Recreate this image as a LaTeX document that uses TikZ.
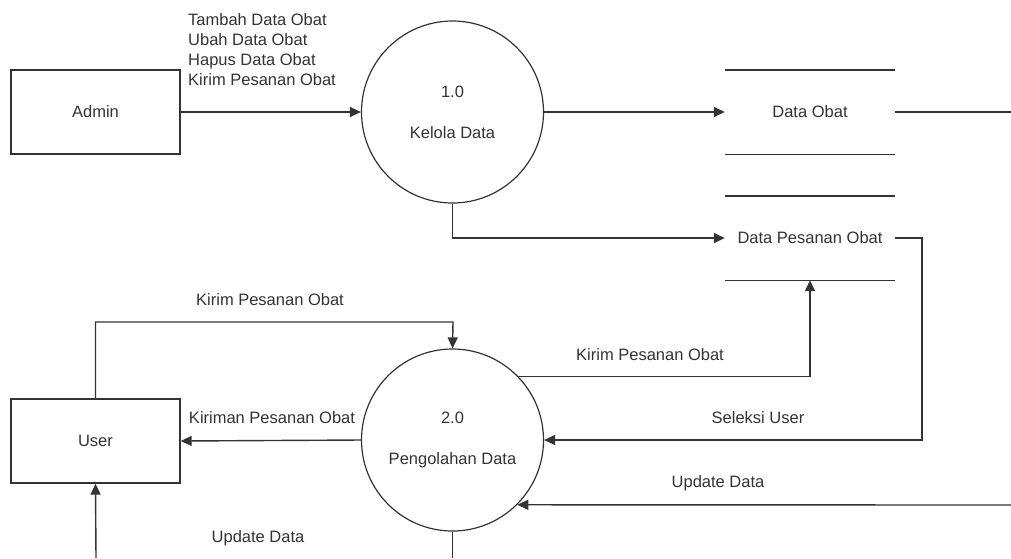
\documentclass[tikz,border=0pt]{standalone}
\usepackage{fontspec}
\setmainfont{Liberation Sans}
\usetikzlibrary{arrows.meta}
\definecolor{lc}{HTML}{333333}
\definecolor{tc}{HTML}{333333}
\begin{document}
\begin{tikzpicture}[x=1pt,y=-1pt,
  font=\fontsize{16.5}{20}\selectfont,
  ent/.style={draw=lc, line width=1.4pt, minimum width=169pt, minimum height=84pt, text=tc, inner sep=0pt},
  proc/.style={circle, draw=lc, line width=1.2pt, minimum size=182pt, inner sep=0pt, align=center, text=tc},
  store/.style={minimum width=170pt, minimum height=84pt, inner sep=0pt, text=tc},
  sline/.style={draw=lc, line width=1.4pt},
  flow/.style={-{Triangle[length=11pt,width=10pt]}, line width=1.4pt, draw=lc},
  plain/.style={line width=1.4pt, draw=lc},
  lbl/.style={text=tc, inner sep=0pt}]
\useasboundingbox (0,0) rectangle (1011,558);

% entities
\node[ent] (admin) at (95.5,112) {Admin};
\node[ent] (user) at (95.5,441) {User};

% processes
\node[proc] (c1) at (452.5,112) {1.0\\[21pt]Kelola Data};
\node[proc] (c2) at (452.5,440) {2.0\\[21pt]Pengolahan Data};

% data stores
\node[store] (s1) at (810,112) {Data Obat};
\node[store] (s2) at (810,238) {Data Pesanan Obat};
\draw[sline] (s1.north west) -- (s1.north east);
\draw[sline] (s1.south west) -- (s1.south east);
\draw[sline] (s2.north west) -- (s2.north east);
\draw[sline] (s2.south west) -- (s2.south east);

% free ends
\coordinate (r1) at (1011,112);
\coordinate (r2) at (1011,505);
\coordinate (kt) at (453,322);
\coordinate (sx) at (922,238);
\coordinate (ub) at (96,558);
\coordinate (cb) at (452.5,558);

% flows
\draw[flow] (admin.east) -- (c1.west);
\draw[flow] (c1.east) -- (s1.west);
\draw[plain] (s1.east) -- (r1);
\draw[flow] (c1.south) |- (s2.west);
\draw[flow] (s2.east) -- (sx) |- (c2.east);
\draw[flow] (c2.44) -| (s2.south);
\draw[flow] (r2) -- (c2.-45.5);
\draw[flow] (user.north) |- (kt) -- (c2.north);
\draw[flow] (c2.west) -- (user.east);
\draw[flow] (ub) -- (user.south);
\draw[plain] (c2.south) -- (cb);

% labels
\node[lbl, align=left, anchor=west] (l1) at (188,49.5) {Tambah Data Obat\\Ubah Data Obat\\Hapus Data Obat\\Kirim Pesanan Obat};
\node[lbl] (l2) at (270,300) {Kirim Pesanan Obat};
\node[lbl] (l3) at (272,418) {Kiriman Pesanan Obat};
\node[lbl] (l4) at (258,538) {Update Data};
\node[lbl] (l5) at (650,355) {Kirim Pesanan Obat};
\node[lbl] (l6) at (758,418) {Seleksi User};
\node[lbl] (l7) at (718,483) {Update Data};
\end{tikzpicture}
\end{document}
